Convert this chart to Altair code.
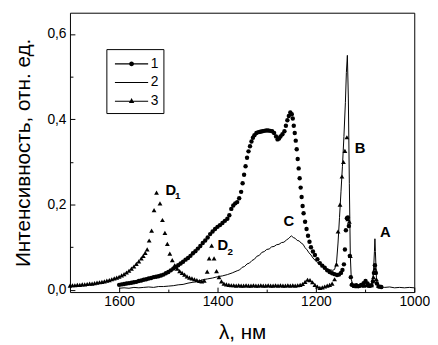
import altair as alt
import pandas as pd

# ---- series 1 (circles) ----
s1_lambda = [
    1600, 1595, 1590, 1585, 1580, 1575, 1570, 1565, 1560, 1555,
    1550, 1545, 1540, 1535, 1530, 1525, 1520, 1515, 1510, 1505,
    1500, 1495, 1490, 1485, 1480, 1475, 1470, 1465, 1460, 1455,
    1450, 1445, 1440, 1435, 1430, 1425, 1420, 1415, 1410, 1405,
    1400, 1395, 1390, 1385, 1380, 1376, 1372, 1368, 1364, 1360,
    1356, 1352, 1349, 1346, 1343, 1340, 1337, 1334, 1331, 1328,
    1325, 1321, 1317, 1313, 1309, 1305, 1301, 1297, 1293, 1289,
    1285, 1281, 1278, 1275, 1272, 1268, 1264, 1261, 1258, 1255,
    1252, 1249, 1247, 1245, 1243, 1241, 1239, 1237, 1235, 1233,
    1231, 1229, 1227, 1225, 1222, 1219, 1216, 1213, 1210, 1206,
    1202, 1197, 1192, 1187, 1182, 1177, 1172, 1167, 1162, 1157,
    1153, 1149, 1146, 1143, 1141, 1139, 1137, 1135, 1133, 1131,
    1129, 1127, 1123, 1118, 1113, 1108, 1103, 1099, 1095, 1091,
    1087, 1084, 1082, 1080, 1078, 1076, 1072, 1067,
]
s1_value = [
    0.012, 0.013, 0.014, 0.015, 0.016, 0.017, 0.018, 0.019, 0.021, 0.022,
    0.024, 0.025, 0.027, 0.028, 0.030, 0.031, 0.032, 0.034, 0.036, 0.039,
    0.042, 0.046, 0.050, 0.054, 0.058, 0.062, 0.066, 0.071, 0.075, 0.080,
    0.086, 0.091, 0.097, 0.103, 0.110, 0.116, 0.123, 0.131, 0.137, 0.143,
    0.148, 0.152, 0.157, 0.162, 0.167, 0.175, 0.190, 0.198, 0.203, 0.206,
    0.215, 0.230, 0.250, 0.270, 0.290, 0.310, 0.325, 0.337, 0.348, 0.357,
    0.363, 0.368, 0.370, 0.371, 0.372, 0.373, 0.374, 0.374, 0.373, 0.372,
    0.368, 0.360, 0.353, 0.355, 0.360, 0.365, 0.372, 0.385, 0.398, 0.408,
    0.416, 0.412, 0.402, 0.385, 0.368, 0.350, 0.330, 0.307, 0.285, 0.262,
    0.240, 0.218, 0.197, 0.180, 0.160, 0.143, 0.127, 0.113, 0.100, 0.090,
    0.082, 0.072, 0.063, 0.057, 0.052, 0.046, 0.042, 0.039, 0.037, 0.035,
    0.036, 0.040, 0.047, 0.060, 0.095, 0.140, 0.168, 0.170, 0.150, 0.080,
    0.030, 0.012, 0.010, 0.011, 0.009, 0.012, 0.016, 0.021, 0.015, 0.010,
    0.011, 0.020, 0.040, 0.058, 0.040, 0.015, 0.008, 0.007,
]

# ---- series 2 (line) ----
s2_lambda = [
    1600, 1590, 1580, 1570, 1560, 1550, 1540, 1530, 1520, 1510,
    1500, 1490, 1480, 1470, 1460, 1450, 1440, 1430, 1420, 1410,
    1400, 1390, 1380, 1370, 1360, 1355, 1350, 1345, 1340, 1335,
    1330, 1325, 1320, 1315, 1310, 1305, 1300, 1295, 1290, 1285,
    1280, 1275, 1270, 1265, 1260, 1255, 1250, 1246, 1242, 1238,
    1234, 1230, 1226, 1222, 1218, 1214, 1210, 1206, 1202, 1198,
    1194, 1190, 1186, 1182, 1178, 1174, 1170, 1166, 1162, 1158,
    1155, 1152, 1149, 1146, 1143, 1140, 1138, 1136, 1134, 1132,
    1130, 1128, 1125, 1120, 1115, 1110, 1105, 1100, 1095, 1090,
    1086, 1083, 1081, 1080, 1079, 1077, 1075, 1070, 1060, 1050,
    1040, 1030, 1020, 1010, 1000,
]
s2_value = [
    0.004, 0.005, 0.004, 0.006, 0.005, 0.006, 0.007, 0.006, 0.008, 0.008,
    0.009, 0.010, 0.012, 0.013, 0.016, 0.018, 0.020, 0.024, 0.026, 0.028,
    0.031, 0.033, 0.036, 0.040, 0.045, 0.047, 0.053, 0.055, 0.061, 0.063,
    0.069, 0.072, 0.079, 0.081, 0.088, 0.090, 0.095, 0.096, 0.101, 0.102,
    0.106, 0.107, 0.111, 0.112, 0.117, 0.121, 0.127, 0.123, 0.121, 0.116,
    0.115, 0.110, 0.107, 0.099, 0.094, 0.087, 0.082, 0.075, 0.070, 0.065,
    0.061, 0.058, 0.055, 0.052, 0.050, 0.048, 0.047, 0.046, 0.048, 0.065,
    0.110, 0.170, 0.230, 0.290, 0.360, 0.440, 0.510, 0.550, 0.450, 0.250,
    0.080, 0.025, 0.012, 0.010, 0.009, 0.010, 0.011, 0.010, 0.009, 0.008,
    0.012, 0.040, 0.090, 0.120, 0.090, 0.030, 0.010, 0.007, 0.006, 0.007,
    0.005, 0.006, 0.005, 0.006, 0.005,
]

# ---- series 3 (triangles) ----
s3_lambda = [
    1700, 1695, 1690, 1685, 1680, 1675, 1670, 1665, 1660, 1655,
    1650, 1645, 1640, 1635, 1630, 1625, 1620, 1615, 1610, 1605,
    1600, 1595, 1590, 1585, 1580, 1575, 1570, 1565, 1560, 1555,
    1551, 1547, 1543, 1539, 1534, 1529, 1524, 1517, 1512, 1507,
    1502, 1497, 1492, 1487, 1482, 1477, 1472, 1467, 1462, 1457,
    1452, 1447, 1442, 1437, 1432, 1427, 1421, 1417, 1412, 1407,
    1402, 1397, 1392, 1387, 1382, 1377, 1372, 1367, 1362, 1357,
    1352, 1347, 1342, 1337, 1332, 1327, 1322, 1317, 1312, 1307,
    1302, 1297, 1292, 1287, 1282, 1277, 1272, 1267, 1262, 1257,
    1252, 1247, 1242, 1237, 1232, 1227, 1222, 1217, 1212, 1207,
    1202, 1197, 1192, 1187, 1182, 1177, 1172, 1167, 1162, 1158,
    1155, 1151, 1147, 1144, 1141, 1137, 1135, 1132, 1130, 1127,
    1122, 1117, 1112, 1107, 1102, 1097, 1092, 1087, 1083, 1080,
    1077, 1073, 1068,
]
s3_value = [
    0.010, 0.011, 0.011, 0.012, 0.012, 0.013, 0.013, 0.014, 0.015, 0.015,
    0.016, 0.017, 0.018, 0.019, 0.020, 0.022, 0.023, 0.025, 0.027, 0.029,
    0.031, 0.034, 0.037, 0.041, 0.045, 0.050, 0.055, 0.061, 0.067, 0.074,
    0.080, 0.087, 0.095, 0.116, 0.139, 0.187, 0.228, 0.203, 0.164, 0.134,
    0.108, 0.085, 0.070, 0.058, 0.050, 0.044, 0.040, 0.036, 0.032, 0.029,
    0.027, 0.025, 0.023, 0.021, 0.020, 0.022, 0.043, 0.074, 0.104, 0.074,
    0.044, 0.030, 0.020, 0.015, 0.013, 0.012, 0.011, 0.011, 0.010, 0.011,
    0.010, 0.010, 0.011, 0.010, 0.010, 0.011, 0.010, 0.010, 0.011, 0.010,
    0.010, 0.011, 0.010, 0.010, 0.011, 0.010, 0.011, 0.010, 0.010, 0.011,
    0.010, 0.011, 0.010, 0.011, 0.012, 0.014, 0.019, 0.024, 0.023, 0.018,
    0.012, 0.008, 0.005, 0.006, 0.008, 0.010, 0.012, 0.015, 0.025, 0.060,
    0.137, 0.200, 0.266, 0.300, 0.326, 0.358, 0.166, 0.160, 0.080, 0.015,
    0.010, 0.009, 0.010, 0.011, 0.010, 0.012, 0.010, 0.011, 0.030, 0.050,
    0.025, 0.010, 0.008,
]

# ---- legend (line drawn as a thin filled bar, same winding as the marker) ----
legend_names = ["1", "2", "3"]
BAR = "M-0.7,-0.06L3.05,-0.06L3.05,0.06L-0.7,0.06Z"
legend_paths = [
    BAR + "M0.9,0A0.28,0.28,0,1,1,1.46,0A0.28,0.28,0,1,1,0.9,0Z",
    BAR,
    BAR + "M1.18,-0.36L1.48,0.2L0.88,0.2Z",
]

# ---- peak labels ----
label_text = ["D", "D", "C", "B", "A"]
label_lambda = [1495, 1389, 1255, 1110, 1059]
label_value = [0.235, 0.106, 0.162, 0.332, 0.135]
sub_text = ["1", "2"]
sub_lambda = [1481, 1374]
sub_value = [0.219, 0.090]

# ---- ticks ----
x_major = [1000, 1200, 1400, 1600]
x_minor = [1100, 1300, 1500]
y_major = [0.0, 0.2, 0.4, 0.6]
y_minor = [0.1, 0.3, 0.5]

FONT = "Liberation Sans"

df1 = pd.DataFrame({"lam": s1_lambda, "val": s1_value})
df2 = pd.DataFrame({"lam": s2_lambda, "val": s2_value})
df3 = pd.DataFrame({"lam": s3_lambda, "val": s3_value})
dfl = pd.DataFrame({"series": legend_names})
dft = pd.DataFrame({"t": label_text, "lam": label_lambda, "val": label_value})
dfs = pd.DataFrame({"t": sub_text, "lam": sub_lambda, "val": sub_value})

xs = alt.Scale(domain=[1000, 1700], reverse=True, nice=False, zero=False)
ys = alt.Scale(domain=[-0.005, 0.65], nice=False, zero=False)

x_major_axis = alt.Axis(
    orient="bottom", values=x_major, tickSize=5, offset=-5, domain=False,
    grid=False, labelPadding=3, labelFontSize=14, format="d",
    labelFlush=False, labelOverlap=False, title="λ, нм",
    titleFontSize=21, titlePadding=13,
)
y_major_axis = alt.Axis(
    orient="left", values=y_major, tickSize=5, offset=-5, domain=False,
    grid=False, labelPadding=4, labelFontSize=14, labelFlush=False,
    labelExpr="replace(format(datum.value, '.1f'), '.', ',')",
    title="Интенсивность, отн. ед.", titleFontSize=21, titlePadding=14,
)
x_minor_axis = alt.Axis(
    orient="bottom", values=x_minor, tickSize=3, offset=-3, domain=False,
    grid=False, labels=False, title=None,
)
y_minor_axis = alt.Axis(
    orient="left", values=y_minor, tickSize=3, offset=-3, domain=False,
    grid=False, labels=False, title=None,
)

line2 = alt.Chart(df2).mark_line(color="black", strokeWidth=1).encode(
    x=alt.X("lam:Q", scale=xs, axis=x_major_axis),
    y=alt.Y("val:Q", scale=ys, axis=y_major_axis),
)

pts3 = alt.Chart(df3).mark_point(
    filled=True, shape="triangle-up", size=24, color="black", opacity=1
).encode(
    x=alt.X("lam:Q", scale=xs, axis=x_minor_axis),
    y=alt.Y("val:Q", scale=ys, axis=y_minor_axis),
)

pts1 = alt.Chart(df1).mark_point(
    filled=True, shape="circle", size=20, color="black", opacity=1
).encode(
    x=alt.X("lam:Q", scale=xs, axis=None),
    y=alt.Y("val:Q", scale=ys, axis=None),
)

labels = alt.Chart(dft).mark_text(
    font=FONT, fontSize=15, fontWeight="bold", color="black",
    align="center", baseline="middle",
).encode(
    x=alt.X("lam:Q", scale=xs, axis=None),
    y=alt.Y("val:Q", scale=ys, axis=None),
    text="t:N",
)

subs = alt.Chart(dfs).mark_text(
    font=FONT, fontSize=10, fontWeight="bold", color="black",
    align="center", baseline="middle",
).encode(
    x=alt.X("lam:Q", scale=xs, axis=None),
    y=alt.Y("val:Q", scale=ys, axis=None),
    text="t:N",
)

legend_layer = alt.Chart(dfl).transform_filter("false").mark_point(
    filled=True, color="black", size=324, opacity=1,
).encode(
    shape=alt.Shape(
        "series:N",
        scale=alt.Scale(domain=legend_names, range=legend_paths),
        legend=alt.Legend(
            orient="none", legendX=37, legendY=37, title=None, padding=5,
            strokeColor="black", labelFont=FONT,
            labelFontSize=14, labelColor="black", labelOffset=20,
            symbolSize=324, rowPadding=2, symbolFillColor="black",
            symbolOpacity=1,
        ),
    )
)

chart = alt.layer(line2, pts3, pts1, labels, subs, legend_layer).resolve_axis(
    x="independent", y="independent"
).properties(
    width=350, height=284,
    padding={"left": 63, "top": 2, "right": 16, "bottom": 51},
    autosize=alt.AutoSizeParams(type="none"),
).configure_view(
    stroke="black", strokeWidth=1
).configure_axis(
    labelFont=FONT, titleFont=FONT, labelColor="black", titleColor="black",
    tickColor="black", titleFontWeight="normal", tickWidth=1,
).configure_legend(
    strokeWidth=1
)

chart.save("out.html", embed_options={"renderer": "svg", "actions": False})
